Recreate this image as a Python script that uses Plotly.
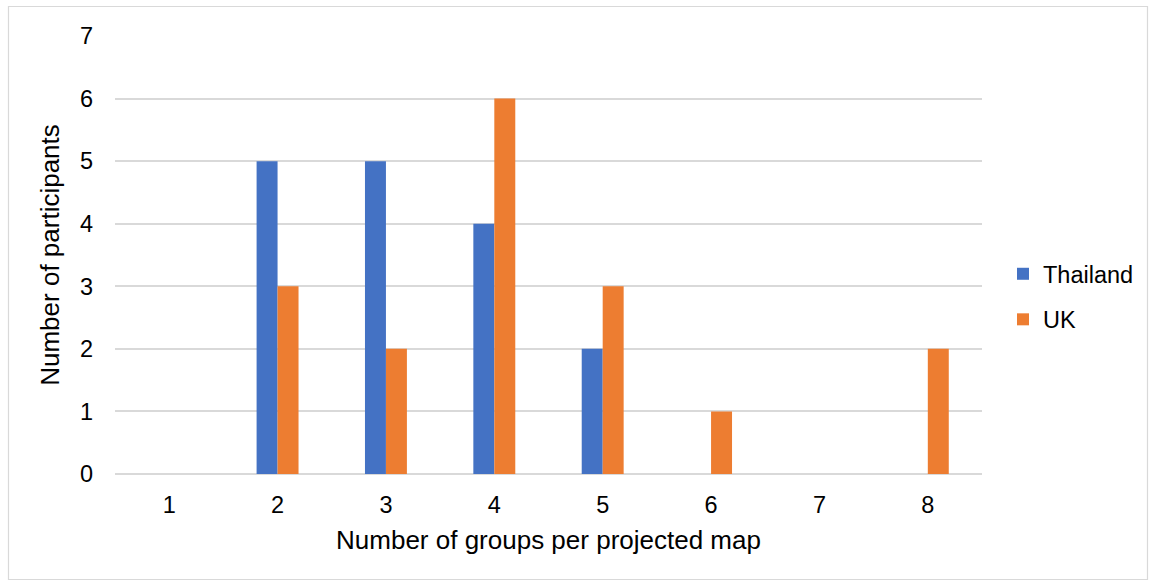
import plotly.graph_objects as go

# Counts of participants by number of groups drawn on each projected map
groups = ["1", "2", "3", "4", "5", "6", "7", "8"]
thailand = [0, 5, 5, 4, 2, 0, 0, 0]
uk = [0, 3, 2, 6, 3, 1, 0, 2]
y_ticks = [0, 1, 2, 3, 4, 5, 6, 7]

W, H = 1155, 584
ML, MR, MT, MB = 115, 173, 36, 110
PW, PH = W - ML - MR, H - MT - MB

FAMILY = "Liberation Sans, Arial, sans-serif"
TICK_SIZE = 23.5
TITLE_SIZE = 26

fig = go.Figure()
fig.add_trace(go.Bar(x=groups, y=thailand, name="Thailand",
                     marker=dict(color="#4472C4", line=dict(width=0)),
                     legendgroup="a"))
fig.add_trace(go.Bar(x=groups, y=uk, name="UK",
                     marker=dict(color="#ED7D31", line=dict(width=0)),
                     legendgroup="b"))


def px_to_paper_x(px):
    return (px - ML) / PW


def px_to_paper_y(py):
    return (H - MB - py) / PH


# Outer chart border
fig.add_shape(type="rect", xref="paper", yref="paper",
              x0=px_to_paper_x(8.5), x1=px_to_paper_x(1147.5),
              y0=px_to_paper_y(579.5), y1=px_to_paper_y(6.5),
              line=dict(color="#d9d9d9", width=1.2), fillcolor="rgba(0,0,0,0)",
              layer="below")

fig.update_layout(
    width=W, height=H,
    margin=dict(l=ML, r=MR, t=MT, b=MB),
    paper_bgcolor="#ffffff", plot_bgcolor="#ffffff",
    font=dict(family=FAMILY, size=TICK_SIZE, color="#000000"),
    barmode="group", bargap=0.613, bargroupgap=0,
    showlegend=True,
    legend=dict(x=px_to_paper_x(1003), xanchor="left",
                y=px_to_paper_y(297), yanchor="middle",
                font=dict(family=FAMILY, size=TICK_SIZE, color="#000000"),
                tracegroupgap=12, bgcolor="rgba(0,0,0,0)"),
    xaxis=dict(type="category", showgrid=False, showline=False, ticks="",
               title=dict(text="Number of groups per projected map", standoff=14,
                          font=dict(size=TITLE_SIZE)),
               tickfont=dict(size=TICK_SIZE), ticklabelstandoff=14),
    yaxis=dict(range=[0, 7], tickvals=y_ticks, showgrid=True,
               gridcolor="#d9d9d9", gridwidth=1.5,
               zeroline=True, zerolinecolor="#d9d9d9", zerolinewidth=2,
               showline=False, ticks="",
               title=dict(text="Number of participants", standoff=12,
                          font=dict(size=TITLE_SIZE)),
               tickfont=dict(size=TICK_SIZE), ticklabelstandoff=21),
)

fig.write_html("out.html")
